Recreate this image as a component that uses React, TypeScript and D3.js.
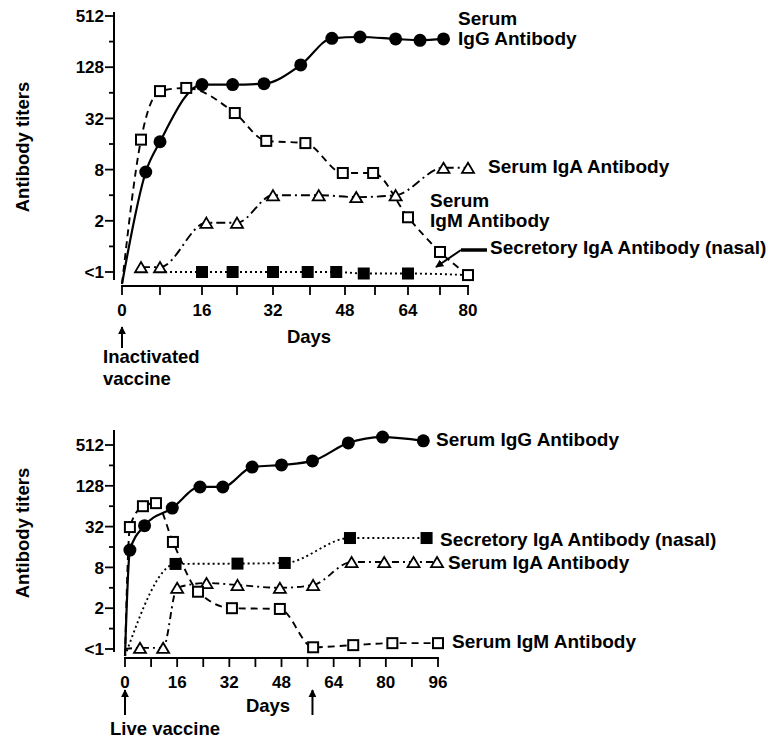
import React, { useRef, useEffect } from 'react';
import * as d3 from 'd3';

// shared titer axis (log2, "<1" sits one step under 1)
const titerTicks = [0.5, 1, 2, 4, 8, 16, 32, 64, 128, 256, 512];
const titerLabels = ['<1', '', '2', '', '8', '', '32', '', '128', '', '512'];

// top panel: inactivated vaccine
const topDayTicks = [0, 8, 16, 24, 32, 40, 48, 56, 64, 72, 80];
const topDayLabels = [0, 16, 32, 48, 64, 80];

const topIgGDays = [5, 8, 16, 23, 30, 38, 45, 52, 61, 67, 73];
const topIgGTiters = [7.5, 17, 80, 80, 82, 136, 280, 290, 275, 265, 275];

const topIgMDays = [4, 8, 13, 23.5, 30.5, 39, 47.5, 55.5, 64, 72, 80];
const topIgMTiters = [18, 67, 73, 37, 17.4, 16.4, 7.3, 7.3, 2.2, 0.86, 0.46];

const topIgADays = [4, 8, 17, 24, 32, 42, 51, 61, 73, 80];
const topIgATiters = [0.57, 0.57, 1.9, 1.9, 4, 4, 3.8, 4, 8.4, 8.4];

const topSecDays = [16, 23, 32, 39.5, 46, 53, 64];
const topSecTiters = [0.5, 0.5, 0.5, 0.5, 0.5, 0.48, 0.48];

// bottom panel: live vaccine
const botDayTicks = [0, 8, 16, 24, 32, 40, 48, 56, 64, 72, 80, 88, 96];
const botDayLabels = [0, 16, 32, 48, 64, 80, 96];

const botIgGDays = [1.5, 6, 14.5, 23, 30, 39, 48, 57.5, 68.5, 79, 91.5];
const botIgGTiters = [14.4, 33, 60, 123, 123, 242, 260, 298, 550, 670, 590];

const botIgMDays = [1.5, 5.5, 9.5, 14.7, 22.4, 32.8, 47.5, 57.7, 70, 82, 96];
const botIgMTiters = [31.5, 64, 71, 19, 3.5, 2, 1.95, 0.53, 0.57, 0.61, 0.61];

const botSecDays = [15.5, 34.5, 49, 69, 92.5];
const botSecTiters = [9, 9.1, 9.3, 21.7, 21.7];

const botIgADays = [4.6, 11.7, 16, 25, 34.5, 47.5, 57.7, 69.5, 79.5, 88.5, 95.7];
const botIgATiters = [0.52, 0.52, 4, 4.7, 4.4, 4, 4.4, 9.6, 9.6, 9.6, 9.6];

const FONT = "'Liberation Sans', Arial, Helvetica, sans-serif";

type Pt = [number, number | null];
type Marker = 'dot' | 'openSquare' | 'triangle' | 'square';

interface Series {
  days: number[];
  titers: number[];
  lead?: Pt; // unmarked start point (null titer = axis corner)
  tail?: Pt; // unmarked end point
  marker: Marker;
  dash: string;
}

interface Label {
  lines: string[];
  x: number;
  y: number;
}

interface Panel {
  x: d3.ScaleLinear<number, number>;
  y: d3.ScaleLogarithmic<number, number>;
  yAxisX: number;
  yAxisTop: number;
  yAxisBottom: number;
  xAxisY: number;
  dayTicks: number[];
  dayLabels: number[];
  series: Series[];
  labels: Label[];
  markSize: number;
}

const drawPanel = (svg: d3.Selection<SVGSVGElement, unknown, null, undefined>, p: Panel) => {
  const g = svg.append('g');

  // y axis
  g.append('line')
    .attr('x1', p.yAxisX).attr('x2', p.yAxisX)
    .attr('y1', p.yAxisTop).attr('y2', p.yAxisBottom)
    .attr('stroke', '#000').attr('stroke-width', 2);

  titerTicks.forEach((t, i) => {
    const major = titerLabels[i] !== '';
    g.append('line')
      .attr('x1', p.yAxisX - (major ? 9 : 5)).attr('x2', p.yAxisX)
      .attr('y1', p.y(t)).attr('y2', p.y(t))
      .attr('stroke', '#000').attr('stroke-width', 1.8);
    if (major) {
      g.append('text')
        .attr('x', p.yAxisX - 10).attr('y', p.y(t)).attr('dy', '0.36em')
        .attr('text-anchor', 'end')
        .attr('font-family', FONT).attr('font-weight', 'bold').attr('font-size', 17)
        .text(titerLabels[i]);
    }
  });

  // x axis
  const days = p.dayTicks;
  g.append('line')
    .attr('x1', p.x(days[0]) - 1).attr('x2', p.x(days[days.length - 1]) + 1)
    .attr('y1', p.xAxisY).attr('y2', p.xAxisY)
    .attr('stroke', '#000').attr('stroke-width', 2);
  days.forEach(d => {
    g.append('line')
      .attr('x1', p.x(d)).attr('x2', p.x(d))
      .attr('y1', p.xAxisY).attr('y2', p.xAxisY + 9)
      .attr('stroke', '#000').attr('stroke-width', 1.8);
  });
  p.dayLabels.forEach(d => {
    g.append('text')
      .attr('x', p.x(d)).attr('y', p.xAxisY + 30)
      .attr('text-anchor', 'middle')
      .attr('font-family', FONT).attr('font-weight', 'bold').attr('font-size', 17)
      .text(d);
  });

  // lines
  const line = d3.line<Pt>()
    .x(d => p.x(d[0]))
    .y(d => (d[1] == null ? p.xAxisY - 2 : p.y(d[1])))
    .curve(d3.curveMonotoneX);

  p.series.forEach(s => {
    const pts: Pt[] = s.days.map((d, i) => [d, s.titers[i]] as Pt);
    if (s.lead) pts.unshift(s.lead);
    if (s.tail) pts.push(s.tail);
    g.append('path')
      .attr('d', line(pts))
      .attr('fill', 'none')
      .attr('stroke', '#000')
      .attr('stroke-width', s.marker === 'dot' ? 2.2 : 1.9)
      .attr('stroke-dasharray', s.dash);
  });

  // markers
  const m = p.markSize;
  p.series.forEach(s => {
    s.days.forEach((d, i) => {
      const cx = p.x(d);
      const cy = p.y(s.titers[i]);
      if (s.marker === 'dot') {
        g.append('circle').attr('cx', cx).attr('cy', cy).attr('r', m / 2 + 0.5).attr('fill', '#000');
      } else if (s.marker === 'square') {
        g.append('rect').attr('x', cx - m / 2).attr('y', cy - m / 2)
          .attr('width', m).attr('height', m).attr('fill', '#000');
      } else if (s.marker === 'openSquare') {
        g.append('rect').attr('x', cx - m / 2 + 1).attr('y', cy - m / 2 + 1)
          .attr('width', m - 2).attr('height', m - 2)
          .attr('fill', '#fff').attr('stroke', '#000').attr('stroke-width', 2);
      } else {
        const h = m * 0.85;
        g.append('path')
          .attr('d', `M${cx},${cy - h / 2}L${cx + m / 2},${cy + h / 2}L${cx - m / 2},${cy + h / 2}Z`)
          .attr('fill', '#fff').attr('stroke', '#000').attr('stroke-width', 1.8);
      }
    });
  });

  // series labels
  p.labels.forEach(l => {
    l.lines.forEach((t, i) => {
      g.append('text')
        .attr('x', l.x).attr('y', l.y + i * 20)
        .attr('font-family', FONT).attr('font-weight', 'bold').attr('font-size', 19)
        .text(t);
    });
  });
};

const App: React.FC = () => {
  const svgRef = useRef<SVGSVGElement>(null);

  useEffect(() => {
    if (!svgRef.current) return;
    const svg = d3.select(svgRef.current);
    svg.selectAll('*').remove();

    svg.append('rect').attr('width', 768).attr('height', 739).attr('fill', '#fff');

    svg.append('defs').append('marker')
      .attr('id', 'arrow')
      .attr('viewBox', '0 0 10 10')
      .attr('refX', 9).attr('refY', 5)
      .attr('markerWidth', 4).attr('markerHeight', 4)
      .attr('markerUnits', 'strokeWidth')
      .attr('orient', 'auto')
      .append('path').attr('d', 'M0,0L10,5L0,10Z').attr('fill', '#000');

    // hand-drawn day axis on top panel is not evenly spaced
    const xTop = d3.scaleLinear()
      .domain(topDayTicks)
      .range([122, 160, 202, 237, 273, 310, 345, 375, 408, 440, 468]);
    const yTop = d3.scaleLog().base(2).domain([0.5, 512]).range([272, 16]);

    const xBot = d3.scaleLinear().domain([0, 96]).range([125, 438]);
    const yBot = d3.scaleLog().base(2).domain([0.5, 512]).range([649, 445]);

    drawPanel(svg, {
      x: xTop, y: yTop,
      yAxisX: 114, yAxisTop: 12, yAxisBottom: 280, xAxisY: 286,
      dayTicks: topDayTicks, dayLabels: topDayLabels,
      markSize: 12,
      series: [
        { days: topSecDays, titers: topSecTiters, lead: [8, 0.5], tail: [80, 0.46], marker: 'square', dash: '2,3' },
        { days: topIgADays, titers: topIgATiters, marker: 'triangle', dash: '9,4,2,4' },
        { days: topIgMDays, titers: topIgMTiters, lead: [0, null], marker: 'openSquare', dash: '7,5' },
        { days: topIgGDays, titers: topIgGTiters, lead: [0, null], marker: 'dot', dash: '' },
      ],
      labels: [
        { lines: ['Serum', 'IgG Antibody'], x: 458, y: 25 },
        { lines: ['Serum IgA Antibody'], x: 488, y: 173 },
        { lines: ['Serum', 'IgM Antibody'], x: 430, y: 207 },
        { lines: ['Secretory IgA Antibody (nasal)'], x: 490, y: 254 },
      ],
    });

    drawPanel(svg, {
      x: xBot, y: yBot,
      yAxisX: 114, yAxisTop: 430, yAxisBottom: 652, xAxisY: 658,
      dayTicks: botDayTicks, dayLabels: botDayLabels,
      markSize: 12,
      series: [
        { days: botSecDays, titers: botSecTiters, lead: [0, null], marker: 'square', dash: '2,3' },
        { days: botIgADays, titers: botIgATiters, lead: [0, 0.5], marker: 'triangle', dash: '7,4,2,4' },
        { days: botIgMDays, titers: botIgMTiters, lead: [0, null], marker: 'openSquare', dash: '7,5' },
        { days: botIgGDays, titers: botIgGTiters, lead: [0, null], marker: 'dot', dash: '' },
      ],
      labels: [
        { lines: ['Serum IgG Antibody'], x: 436, y: 446 },
        { lines: ['Secretory IgA Antibody (nasal)'], x: 440, y: 546 },
        { lines: ['Serum IgA Antibody'], x: 448, y: 569 },
        { lines: ['Serum IgM Antibody'], x: 452, y: 648 },
      ],
    });

    // pointer from the nasal label in the top panel
    svg.append('path')
      .attr('d', 'M487,250L461,250')
      .attr('stroke', '#000').attr('stroke-width', 3.5).attr('fill', 'none');
    svg.append('line')
      .attr('x1', 461).attr('y1', 250).attr('x2', 436).attr('y2', 267)
      .attr('stroke', '#000').attr('stroke-width', 2)
      .attr('marker-end', 'url(#arrow)');

    // axis titles and vaccine arrows
    const text = (s: string, x: number, y: number, anchor = 'start', rotate = false) => {
      const t = svg.append('text')
        .attr('font-family', FONT).attr('font-weight', 'bold').attr('font-size', 18.5)
        .attr('text-anchor', anchor)
        .text(s);
      if (rotate) t.attr('transform', `translate(${x},${y}) rotate(-90)`);
      else t.attr('x', x).attr('y', y);
    };
    text('Antibody titers', 29, 147, 'middle', true);
    text('Antibody titers', 29, 533, 'middle', true);
    text('Days', 309, 343, 'middle');
    text('Days', 268, 712, 'middle');
    text('Inactivated', 103, 363);
    text('vaccine', 103, 385);
    text('Live vaccine', 110, 735);

    const arrow = (x: number, y1: number, y2: number) => {
      svg.append('line')
        .attr('x1', x).attr('x2', x).attr('y1', y2).attr('y2', y1)
        .attr('stroke', '#000').attr('stroke-width', 2)
        .attr('marker-end', 'url(#arrow)');
    };
    arrow(xTop(0), 327, 348);
    arrow(xBot(0), 690, 715);
    arrow(xBot(57.5), 690, 715);
  }, []);

  return (
    <svg
      ref={svgRef}
      width={768}
      height={739}
      style={{ position: 'absolute', left: 0, top: 0, display: 'block' }}
    />
  );
};

export default App;
